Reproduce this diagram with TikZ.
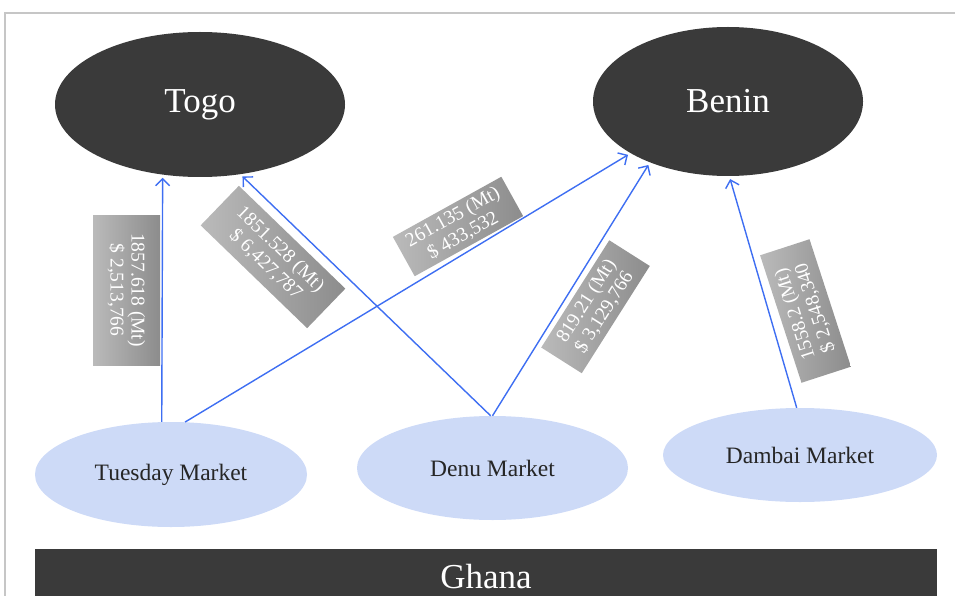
\documentclass[tikz,border=0pt]{standalone}
\usepackage{fontspec}
\setmainfont{Liberation Serif}
\usetikzlibrary{shapes,arrows.meta}
\definecolor{darkland}{RGB}{58,58,58}
\definecolor{paleblue}{RGB}{205,218,247}
\definecolor{flowblue}{RGB}{62,110,242}
\tikzstyle{country} = [ellipse, fill=darkland, text=white, inner sep=0pt,
    font=\fontsize{35}{40}\selectfont]
\tikzstyle{market} = [ellipse, fill=paleblue, text=black!85, inner sep=0pt,
    font=\fontsize{23.5}{26}\selectfont]
\tikzstyle{region} = [rectangle, fill=darkland, text=white, inner sep=0pt,
    font=\fontsize{35}{40}\selectfont]
\tikzstyle{flow} = [rectangle, left color=black!27, right color=black!45,
    text=white, align=center, inner sep=2pt, font=\fontsize{19.5}{21}\selectfont]
\tikzstyle{arrow} = [draw=flowblue, line width=1.4pt,
    -{Straight Barb[length=7pt,width=14pt]}, shorten >=3pt]

\begin{document}
\begin{tikzpicture}[x=1pt, y=-1pt]
    \useasboundingbox (0,0) rectangle (955,596);
    \clip (0,0) rectangle (955,596);
    \draw[gray!45, line width=1.2pt] (955,13) -- (5,13) -- (5,596);

    % countries on top, markets below
    \node[country, minimum width=290pt, minimum height=145pt] (togo) at (200,104.5) {Togo};
    \node[country, minimum width=270pt, minimum height=149pt] (benin) at (728,101.5) {Benin};
    \node[market, minimum width=272pt, minimum height=105pt] (tue) at (171,474.5) {Tuesday Market};
    \node[market, minimum width=271pt, minimum height=104pt] (denu) at (492.5,468) {Denu Market};
    \node[market, minimum width=274pt, minimum height=94pt] (dambai) at (800,455) {Dambai Market};
    \node[region, minimum width=902pt, minimum height=56pt] (ghana) at (486,577) {Ghana};

    % quantities and values
    \node[flow, rotate=-90, minimum width=150pt, minimum height=67pt] (tuetogo) at (126.5,290)
        {1857.618 (Mt)\\ \$ 2,513,766};
    \node[flow, rotate=-44, minimum width=148pt, minimum height=55pt] (denutogo) at (273,257)
        {1851.528 (Mt)\\ \$ 6,427,787};
    \node[flow, rotate=29, minimum width=124pt, minimum height=45pt] (tuebenin) at (458,226.5)
        {261.135 (Mt)\\ \$ 433,532};
    \node[flow, rotate=57.6, minimum width=127pt, minimum height=48pt] (denubenin) at (595.5,306.75)
        {819.21 (Mt)\\ \$ 3,129,766};
    \node[flow, rotate=108, minimum width=134pt, minimum height=52pt] (dambaibenin) at (805.5,311)
        {1558.2 (Mt)\\ \$ 2,548,340};

    \draw [arrow] (tue.100) -- (togo.242);
    \draw [arrow] (denu.92) -- (togo.300);
    \draw [arrow] (tue.75) -- (benin.208);
    \draw [arrow] (denu.90) -- (benin.218);
    \draw [arrow] (dambai.94) -- (benin.271);
\end{tikzpicture}
\end{document}
